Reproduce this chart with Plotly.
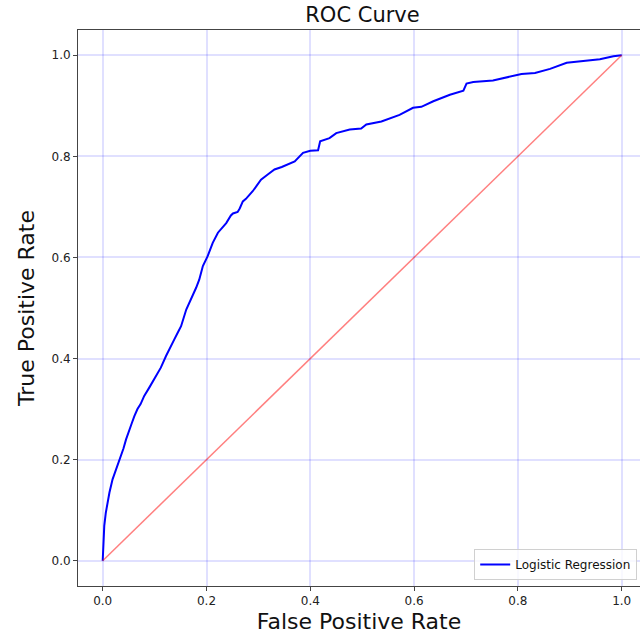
import plotly.graph_objects as go

# ROC curve points
fpr = [0, 0.001, 0.003, 0.006, 0.009, 0.013, 0.019, 0.024, 0.029, 0.035, 0.040, 0.045,
       0.051, 0.056, 0.061, 0.067, 0.073, 0.080, 0.090, 0.099, 0.103, 0.112, 0.122, 0.130,
       0.138, 0.145, 0.151, 0.161, 0.173, 0.180, 0.186, 0.193, 0.202, 0.212, 0.222, 0.228,
       0.238, 0.247, 0.251, 0.260, 0.264, 0.270, 0.276, 0.289, 0.305, 0.318, 0.331, 0.345,
       0.357, 0.370, 0.386, 0.400, 0.415, 0.419, 0.437, 0.450, 0.476, 0.498, 0.508, 0.537,
       0.572, 0.598, 0.614, 0.637, 0.669, 0.695, 0.701, 0.714, 0.752, 0.785, 0.807, 0.833,
       0.862, 0.894, 0.926, 0.958, 0.984, 1.0]
tpr = [0, 0.035, 0.069, 0.095, 0.115, 0.135, 0.161, 0.175, 0.187, 0.207, 0.222, 0.240,
       0.260, 0.272, 0.286, 0.300, 0.310, 0.326, 0.343, 0.359, 0.366, 0.382, 0.405, 0.420,
       0.438, 0.452, 0.464, 0.497, 0.523, 0.540, 0.556, 0.583, 0.602, 0.629, 0.649, 0.657,
       0.668, 0.683, 0.687, 0.690, 0.697, 0.711, 0.716, 0.731, 0.754, 0.764, 0.774, 0.779,
       0.784, 0.790, 0.807, 0.811, 0.812, 0.830, 0.836, 0.846, 0.853, 0.855, 0.863, 0.869,
       0.882, 0.896, 0.898, 0.909, 0.922, 0.930, 0.944, 0.947, 0.950, 0.958, 0.963, 0.965,
       0.973, 0.985, 0.989, 0.992, 0.998, 1.0]

diag_x = [0, 1]
diag_y = [0, 1]

tick_vals = [0.0, 0.2, 0.4, 0.6, 0.8, 1.0]
tick_text = ["0.0", "0.2", "0.4", "0.6", "0.8", "1.0"]

FONT = "DejaVu Sans"

fig = go.Figure()
fig.add_trace(go.Scatter(x=fpr, y=tpr, mode="lines", name="Logistic Regression",
                         line=dict(color="#0000ff", width=2)))
fig.add_trace(go.Scatter(x=diag_x, y=diag_y, mode="lines", showlegend=False,
                         line=dict(color="rgba(255,0,0,0.5)", width=1.5)))

axis_common = dict(
    tickvals=tick_vals, ticktext=tick_text, automargin=False,
    showgrid=True, gridcolor="rgba(0,0,255,0.12)", gridwidth=2,
    zeroline=False, showline=True, linecolor="#444", linewidth=1,
    ticks="outside", ticklen=4, tickcolor="#444", tickwidth=1,
    tickfont=dict(family=FONT, size=12, color="#222"),
)

fig.update_layout(
    width=640, height=635,
    margin=dict(l=78, r=0, t=30, b=49, autoexpand=False),
    paper_bgcolor="white", plot_bgcolor="white",
    font=dict(family=FONT, color="#111"),
    title=dict(text="ROC Curve", x=(78 + 647) / 2 / 640, xanchor="center",
               y=1 - 15 / 635, yanchor="middle", yref="container",
               font=dict(family=FONT, size=21, color="#111")),
    xaxis=dict(range=[-0.0476, 1.0353], mirror=True,
               title=dict(text="False Positive Rate", standoff=6,
                          font=dict(family=FONT, size=22, color="#111")),
               **axis_common),
    yaxis=dict(range=[-0.05, 1.05], mirror=False,
               title=dict(text="True Positive Rate", standoff=10,
                          font=dict(family=FONT, size=22, color="#111")),
               **axis_common),
    legend=dict(x=0.705, y=0.011, xanchor="left", yanchor="bottom",
                bgcolor="rgba(255,255,255,0.8)", bordercolor="#d0d0d0", borderwidth=1,
                font=dict(family=FONT, size=12, color="#111")),
)

fig.write_html("out.html", config={"displayModeBar": False},
               post_script="document.body.style.margin='0';")
